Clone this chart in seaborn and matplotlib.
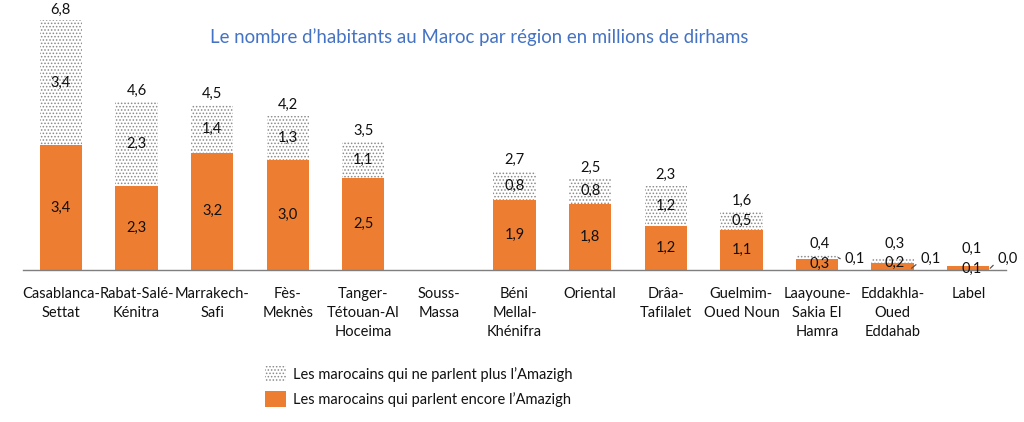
import matplotlib
matplotlib.use("Agg")
import matplotlib.pyplot as plt
import seaborn as sns
import pandas as pd
from matplotlib.patches import Patch

regions = ["Casablanca-\nSettat", "Rabat-Salé-\nKénitra", "Marrakech-\nSafi", "Fès-\nMeknès",
           "Tanger-\nTétouan-Al\nHoceima", "Souss-\nMassa", "Béni\nMellal-\nKhénifra", "Oriental",
           "Drâa-\nTafilalet", "Guelmim-\nOued Noun", "Laayoune-\nSakia El\nHamra",
           "Eddakhla-\nOued\nEddahab", "Label"]
encore = [3.4, 2.3, 3.2, 3.0, 2.5, 0, 1.9, 1.8, 1.2, 1.1, 0.3, 0.2, 0.1]
plus = [3.4, 2.3, 1.4, 1.3, 1.1, 0, 0.8, 0.8, 1.2, 0.5, 0.1, 0.1, 0.0]
totals = [6.8, 4.6, 4.5, 4.2, 3.5, 0, 2.7, 2.5, 2.3, 1.6, 0.4, 0.3, 0.1]

title = "Le nombre d’habitants au Maroc par région en millions de dirhams"
lab_plus = "Les marocains qui ne parlent plus l’Amazigh"
lab_encore = "Les marocains qui parlent encore l’Amazigh"

sns.set_theme(style="white")
plt.rcParams['font.family'] = ['Lato', 'DejaVu Sans']
plt.rcParams['hatch.color'] = '#8a8a8a'
plt.rcParams['hatch.linewidth'] = 0.7

orange = "#ED7D31"
txtc = "#111111"
df = pd.DataFrame({"region": regions, "encore": encore, "plus": plus, "total": totals})

fig = plt.figure(figsize=(10.24, 4.22), dpi=100)
ax = fig.add_axes([0.0225, 0.360, 0.96, 0.609])

sns.barplot(data=df, x="region", y="total", ax=ax, color="white", width=0.56,
            edgecolor="#8a8a8a", linewidth=0, hatch=".....", saturation=1)
sns.barplot(data=df, x="region", y="encore", ax=ax, color=orange, width=0.56,
            linewidth=0, saturation=1)

ax.set_ylim(0, 7.0)
ax.set_xlim(-0.5, len(regions) - 0.5)
ax.set_xlabel("")
ax.set_ylabel("")
ax.set_yticks([])
for s in ["top", "left", "right"]:
    ax.spines[s].set_visible(False)
ax.spines["bottom"].set_color("#7f7f7f")
ax.spines["bottom"].set_linewidth(1.0)
ax.tick_params(axis="x", length=0, pad=12, labelsize=10.5, colors=txtc)
for t in ax.get_xticklabels():
    t.set_linespacing(1.45)
    t.set_verticalalignment("top")

fmt = lambda v: f"{v:.1f}".replace(".", ",")
fs = 10.5
# label placement for the three tiny bars on the right (data units)
small_pos = {
    10: dict(tot=(0.03, 0.71), enc=(0.03, 0.16), plu=(0.50, 0.30), lead=(0.28, 0.34)),
    11: dict(tot=(0.03, 0.71), enc=(0.03, 0.19), plu=(0.50, 0.30), lead=(0.25, 0.05)),
    12: dict(tot=(0.05, 0.57), enc=(0.05, 0.03), plu=(0.52, 0.30), lead=(0.29, 0.05)),
}
for i, (e, p, t) in enumerate(zip(encore, plus, totals)):
    if t == 0:
        continue
    if i not in small_pos:
        ax.text(i, e / 2, fmt(e), ha="center", va="center", fontsize=fs, color=txtc)
        ax.text(i, e + (t - e) / 2, fmt(p), ha="center", va="center", fontsize=fs, color=txtc)
        ax.text(i, t + 0.1, fmt(t), ha="center", va="bottom", fontsize=fs, color=txtc)
    else:
        sp = small_pos[i]
        ax.text(i + sp["tot"][0], sp["tot"][1], fmt(t), ha="center", va="center", fontsize=fs, color=txtc)
        ax.text(i + sp["enc"][0], sp["enc"][1], fmt(e), ha="center", va="center", fontsize=fs, color=txtc)
        ax.annotate(fmt(p), xy=(i + sp["lead"][0], sp["lead"][1]),
                    xytext=(i + sp["plu"][0], sp["plu"][1]), textcoords="data",
                    ha="center", va="center", fontsize=fs, color=txtc,
                    arrowprops=dict(arrowstyle="-", color="#555555", lw=0.9,
                                    shrinkA=1, shrinkB=0,
                                    relpos=(0, 0.35)))

fig.text(0.468, 1 - 37 / 422, title, ha="center", va="center", fontsize=13.4, color="#4472C4")

handles = [Patch(facecolor="white", edgecolor="#8a8a8a", hatch=".....", linewidth=0),
           Patch(facecolor=orange, linewidth=0)]
fig.legend(handles, [lab_plus, lab_encore], loc="upper left", bbox_to_anchor=(252 / 1024, 1 - 353 / 422),
           frameon=False, fontsize=10.5, handlelength=1.45, handleheight=1.35, handletextpad=0.45,
           labelspacing=0.55, labelcolor=txtc)

fig.savefig("out.png", dpi=100)
